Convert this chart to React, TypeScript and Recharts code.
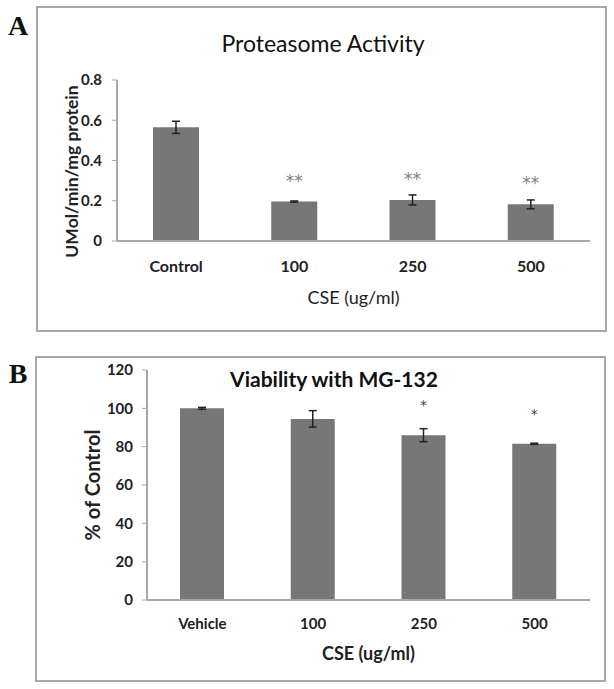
import { BarChart, Bar, XAxis, YAxis, ErrorBar, LabelList, Label } from "recharts";

// Panel A: proteasome activity
const activityGroups = ["Control", "100", "250", "500"];
const activityMeans = [0.565, 0.196, 0.204, 0.182];
const activityErrors = [0.03, 0.003, 0.025, 0.022];
const activityMarks = ["", "**", "**", "**"];
const activityTicks = [0, 0.2, 0.4, 0.6, 0.8];

// Panel B: viability with MG-132
const viabilityGroups = ["Vehicle", "100", "250", "500"];
const viabilityMeans = [100, 94.5, 86, 81.5];
const viabilityErrors = [0.5, 4.3, 3.4, 0.3];
const viabilityMarks = ["", "", "*", "*"];
const viabilityTicks = [0, 20, 40, 60, 80, 100, 120];

const FONT = "Lato, 'Open Sans', sans-serif";
const BAR = "#777777";
const AXIS = "#a8a8a8";
const INK = "#222222";

const activityData = activityGroups.map((name, i) => ({
  name,
  value: activityMeans[i],
  err: activityErrors[i],
  mark: activityMarks[i],
}));

const viabilityData = viabilityGroups.map((name, i) => ({
  name,
  value: viabilityMeans[i],
  err: viabilityErrors[i],
  mark: viabilityMarks[i],
}));

const tickStyle = { fill: INK, fontSize: 15, fontWeight: 700, fontFamily: FONT };

function yTitle(text: string, dx: number, dy: number, size: number) {
  return ({ viewBox }: any) => {
    const cx = viewBox.x + dx;
    const cy = viewBox.y + viewBox.height / 2 + dy;
    return (
      <text
        x={cx}
        y={cy}
        transform={`rotate(-90 ${cx} ${cy})`}
        textAnchor="middle"
        dominantBaseline="central"
        fill={INK}
        fontSize={size}
        fontWeight={700}
        fontFamily={FONT}
      >
        {text}
      </text>
    );
  };
}

function xTitle(text: string, dy: number, weight: number) {
  return ({ viewBox }: any) => (
    <text
      x={viewBox.x + viewBox.width / 2}
      y={viewBox.y + dy}
      textAnchor="middle"
      dominantBaseline="central"
      fill={INK}
      fontSize={18}
      fontWeight={weight}
      fontFamily={FONT}
    >
      {text}
    </text>
  );
}

export default function App() {
  return (
    <div style={{ position: "absolute", left: 0, top: 0, width: 614, height: 689, background: "#fff" }}>
      <svg width={614} height={689} style={{ position: "absolute", left: 0, top: 0 }}>
        <rect x={37} y={7} width={569} height={324} fill="none" stroke={AXIS} strokeWidth={2} />
        <rect x={36} y={357} width={569} height={324} fill="none" stroke={AXIS} strokeWidth={2} />
        <text x={18} y={25} textAnchor="middle" dominantBaseline="central" fontFamily="'Liberation Serif', serif" fontWeight={700} fontSize={28} fill="#111">A</text>
        <text x={18} y={373} textAnchor="middle" dominantBaseline="central" fontFamily="'Liberation Serif', serif" fontWeight={700} fontSize={28} fill="#111">B</text>
        <text x={323} y={43} textAnchor="middle" dominantBaseline="central" fontFamily={FONT} fontSize={23} fill="#111">Proteasome Activity</text>
        <text x={334} y={378} textAnchor="middle" dominantBaseline="central" fontFamily={FONT} fontWeight={700} fontSize={21} fill="#111">Viability with MG-132</text>
      </svg>

      <div style={{ position: "absolute", left: 0, top: 0 }}>
        <BarChart width={614} height={345} data={activityData} margin={{ top: 80, right: 24, bottom: 0, left: 0 }}>
          <XAxis dataKey="name" height={104} tickLine={false} tickSize={0} tickMargin={20} axisLine={{ stroke: AXIS, strokeWidth: 2 }} tick={{ ...tickStyle, fontSize: 16 }}>
            <Label content={xTitle("CSE (ug/ml)", 56, 400)} />
          </XAxis>
          <YAxis width={117} domain={[0, 0.8]} ticks={activityTicks} tickSize={5} tickMargin={10} axisLine={{ stroke: AXIS, strokeWidth: 2 }} tickLine={{ stroke: AXIS }} tick={tickStyle}>
            <Label content={yTitle("UMol/min/mg protein", 71, 11, 17.5)} />
          </YAxis>
          <Bar dataKey="value" fill={BAR} barSize={46} isAnimationActive={false}>
            <ErrorBar dataKey="err" width={4} stroke={INK} strokeWidth={1.5} isAnimationActive={false} />
            <LabelList dataKey="mark" position="top" offset={15} fill="#808080" fontSize={17} fontFamily="'DejaVu Sans', sans-serif" />
          </Bar>
        </BarChart>
      </div>

      <div style={{ position: "absolute", left: 0, top: 340 }}>
        <BarChart width={614} height={349} data={viabilityData} margin={{ top: 30, right: 24, bottom: 0, left: 0 }}>
          <XAxis dataKey="name" height={89} tickLine={false} tickSize={0} tickMargin={18} axisLine={{ stroke: AXIS, strokeWidth: 2 }} tick={tickStyle}>
            <Label content={xTitle("CSE (ug/ml)", 53, 700)} />
          </XAxis>
          <YAxis width={147} domain={[0, 120]} ticks={viabilityTicks} tickSize={5} tickMargin={9} axisLine={{ stroke: AXIS, strokeWidth: 2 }} tickLine={{ stroke: AXIS }} tick={tickStyle}>
            <Label content={yTitle("% of Control", 92, 0, 20)} />
          </YAxis>
          <Bar dataKey="value" fill={BAR} barSize={44} isAnimationActive={false}>
            <ErrorBar dataKey="err" width={4} stroke={INK} strokeWidth={1.5} isAnimationActive={false} />
            <LabelList dataKey="mark" position="top" offset={25} fill="#444" fontSize={14} fontFamily="'DejaVu Sans', sans-serif" />
          </Bar>
        </BarChart>
      </div>
    </div>
  );
}
